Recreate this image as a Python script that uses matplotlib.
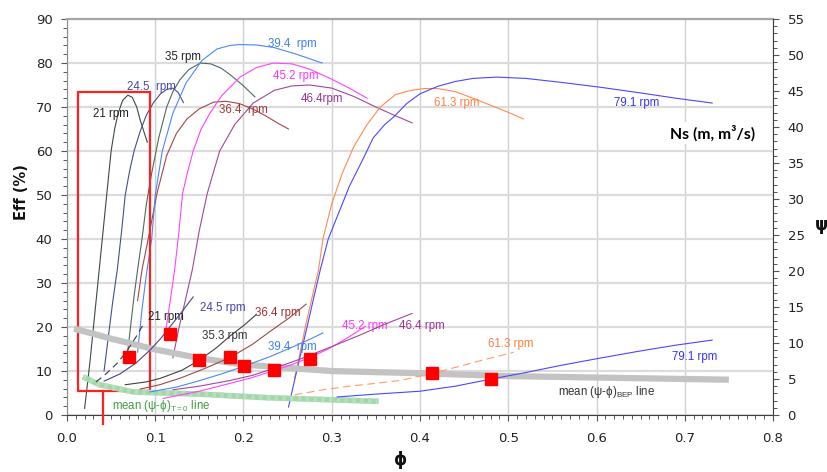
import matplotlib
matplotlib.use('Agg')
import matplotlib.pyplot as plt
from matplotlib.ticker import MultipleLocator, FormatStrFormatter
from matplotlib.patches import Rectangle

# ---------------- efficiency curves (phi, Eff %) ----------------
eff21_phi = [0.020, 0.026, 0.032, 0.037, 0.040, 0.045, 0.050, 0.054, 0.058, 0.063, 0.069, 0.074, 0.079, 0.083, 0.087, 0.091]
eff21_val = [1.5, 12, 24, 34, 40, 50, 60, 65, 68.6, 71.5, 72.7, 72.2, 70, 67, 64.5, 62]

eff245_phi = [0.042, 0.047, 0.052, 0.057, 0.062, 0.066, 0.071, 0.076, 0.083, 0.090, 0.098, 0.106, 0.113, 0.120, 0.126, 0.132]
eff245_val = [10, 18, 26, 33, 42, 50, 55.5, 60, 64.5, 68.2, 71, 73, 74, 74.3, 73.3, 71]

eff35_phi = [0.068, 0.072, 0.076, 0.080, 0.085, 0.090, 0.096, 0.104, 0.113, 0.120, 0.128, 0.138, 0.151, 0.163, 0.175, 0.187, 0.200, 0.213]
eff35_val = [13, 20, 27, 33, 40, 48, 55, 63, 70, 73.5, 76.2, 78.5, 80, 79.8, 78.8, 77, 74.8, 72.3]

eff364_phi = [0.080, 0.085, 0.093, 0.102, 0.113, 0.124, 0.136, 0.150, 0.166, 0.180, 0.195, 0.210, 0.225, 0.240, 0.251]
eff364_val = [26, 33, 41, 50.4, 59, 64, 67.3, 69.6, 71.1, 71.3, 70.8, 69.6, 68, 66.2, 65]

eff394_phi = [0.080, 0.085, 0.090, 0.096, 0.100, 0.108, 0.120, 0.135, 0.153, 0.170, 0.185, 0.196, 0.215, 0.235, 0.260, 0.289]
eff394_val = [14.3, 24, 32, 40, 50, 60, 68.6, 75.5, 80.6, 83.2, 84, 84.2, 84.1, 83.5, 82, 80]

eff452_phi = [0.112, 0.117, 0.122, 0.127, 0.131, 0.137, 0.143, 0.152, 0.162, 0.175, 0.196, 0.215, 0.234, 0.255, 0.275, 0.295, 0.318, 0.340]
eff452_val = [19.3, 26, 33, 42, 50.4, 55.5, 60, 65, 68.6, 72.5, 76.8, 79, 80, 79.8, 78.6, 76.8, 74.5, 72]

eff464_phi = [0.120, 0.126, 0.134, 0.142, 0.150, 0.159, 0.173, 0.190, 0.211, 0.235, 0.255, 0.275, 0.300, 0.325, 0.350, 0.370, 0.391]
eff464_val = [13, 19, 26, 33, 42, 50.4, 60, 66, 70.9, 73.8, 74.8, 75, 74.3, 72.4, 70, 68.2, 66.4]

eff613_phi = [0.258, 0.264, 0.270, 0.278, 0.285, 0.290, 0.300, 0.312, 0.325, 0.340, 0.355, 0.372, 0.390, 0.405, 0.420, 0.440, 0.460, 0.480, 0.500, 0.517]
eff613_val = [8.4, 14, 20, 27, 33, 40, 48, 55, 61, 66, 70, 72.8, 73.8, 74.2, 74.2, 73.5, 72, 70.4, 68.8, 67.3]

eff791_phi = [0.251, 0.258, 0.265, 0.272, 0.280, 0.287, 0.296, 0.308, 0.320, 0.335, 0.347, 0.360, 0.370, 0.385, 0.400, 0.420, 0.440, 0.460, 0.487, 0.520, 0.560, 0.604, 0.650, 0.690, 0.731]
eff791_val = [1.8, 8, 14, 20, 27, 33, 40, 46, 52, 58, 63, 66, 67.7, 70.8, 73, 74.7, 75.8, 76.5, 76.8, 76.5, 75.6, 74.5, 73.2, 72, 70.9]

# ---------------- head coefficient curves (phi, psi) ----------------
psi21_phi = [0.033, 0.045, 0.057, 0.068, 0.078, 0.088]
psi21_val = [4.6, 5.8, 7.2, 8.9, 10.8, 12.9]

psi245_phi = [0.042, 0.060, 0.078, 0.094, 0.106, 0.117, 0.130, 0.143]
psi245_val = [4.7, 5.7, 7.2, 9.0, 10.6, 12.3, 14.3, 16.4]

psi353_phi = [0.066, 0.090, 0.106, 0.130, 0.150, 0.170, 0.185, 0.200, 0.214]
psi353_val = [4.2, 4.6, 5.1, 6.2, 7.6, 9.4, 11.0, 12.4, 13.9]

psi364_phi = [0.083, 0.105, 0.128, 0.155, 0.185, 0.210, 0.230, 0.252, 0.271]
psi364_val = [3.6, 4.2, 5.1, 6.4, 8.0, 9.8, 11.6, 13.5, 15.4]

psi394_phi = [0.094, 0.125, 0.151, 0.175, 0.201, 0.230, 0.253, 0.275, 0.290]
psi394_val = [3.2, 3.9, 4.8, 5.7, 6.8, 8.1, 9.3, 10.5, 11.4]

psi452_phi = [0.109, 0.150, 0.185, 0.210, 0.235, 0.255, 0.275, 0.295, 0.315, 0.338]
psi452_val = [2.3, 3.3, 4.4, 5.2, 6.2, 7.0, 8.0, 9.1, 10.5, 12.3]

psi464_phi = [0.120, 0.150, 0.185, 0.210, 0.235, 0.265, 0.298, 0.330, 0.360, 0.391]
psi464_val = [3.5, 4.0, 4.8, 5.5, 6.5, 7.8, 9.4, 11.0, 12.6, 14.1]

psi613_phi = [0.258, 0.290, 0.320, 0.350, 0.378, 0.414, 0.440, 0.470, 0.506]
psi613_val = [2.8, 3.5, 4.0, 4.4, 4.8, 5.8, 6.6, 7.6, 8.7]

psi791_phi = [0.306, 0.350, 0.400, 0.440, 0.481, 0.520, 0.560, 0.604, 0.650, 0.690, 0.731]
psi791_val = [2.5, 2.9, 3.3, 4.0, 5.0, 5.9, 6.9, 7.9, 8.9, 9.7, 10.4]

# mean lines
bep_phi = [0.008, 0.05, 0.10, 0.15, 0.20, 0.30, 0.40, 0.50, 0.60, 0.75]
bep_psi = [12.0, 10.6, 9.1, 7.9, 7.0, 6.1, 5.8, 5.4, 5.2, 4.9]

t0_phi = [0.018, 0.037, 0.075, 0.151, 0.227, 0.353]
t0_psi = [5.3, 4.2, 3.2, 2.9, 2.4, 1.9]

# BEP points
bep_pts_phi = [0.070, 0.117, 0.150, 0.185, 0.201, 0.235, 0.275, 0.414, 0.481]
bep_pts_psi = [8.0, 11.2, 7.6, 8.0, 6.8, 6.2, 7.8, 5.8, 5.0]

# ---------------- figure ----------------
plt.rcParams['font.family'] = ['DejaVu Sans']
fig = plt.figure(figsize=(8.28, 4.72), dpi=100)
ax = fig.add_axes([0.0809, 0.1208, 0.8527, 0.8389])
ax2 = ax.twinx()

ax.set_xlim(0, 0.8)
ax.set_ylim(0, 90)
ax2.set_ylim(0, 55)

ax.xaxis.set_major_locator(MultipleLocator(0.1))
ax.xaxis.set_minor_locator(MultipleLocator(0.01))
ax.xaxis.set_major_formatter(FormatStrFormatter('%.1f'))
ax.yaxis.set_major_locator(MultipleLocator(10))
ax.yaxis.set_minor_locator(MultipleLocator(2))
ax2.yaxis.set_major_locator(MultipleLocator(5))
ax2.yaxis.set_minor_locator(MultipleLocator(1))

for a in (ax, ax2):
    a.tick_params(which='major', length=4.5, width=0.8, color='#555555', labelsize=9.5, labelcolor='#222222', direction='out')
    a.tick_params(which='minor', length=3, width=0.7, color='#555555', direction='out')
ax.tick_params(axis='x', pad=8)
ax.tick_params(axis='y', pad=6)
ax2.tick_params(axis='y', pad=6)

ax.set_axisbelow(True)
ax.grid(True, axis='x', which='major', color='#d0d0d0', lw=1.0)
ax.grid(True, axis='y', which='major', color='#dcdcdc', lw=1.6)

ax.spines['top'].set_color('#a6a6a6')
ax.spines['top'].set_linewidth(1.6)
ax.spines['left'].set_color('#8a8a8a')
ax.spines['bottom'].set_color('#404040')
ax.spines['right'].set_visible(False)
for s in ('top', 'left', 'bottom'):
    ax2.spines[s].set_visible(False)
ax2.spines['right'].set_color('#404040')

lw = 0.8
# efficiency curves
ax.plot(eff21_phi, eff21_val, color='#3c4a44', lw=lw)
ax.plot(eff245_phi, eff245_val, color='#44508c', lw=lw)
ax.plot(eff35_phi, eff35_val, color='#4f6a5c', lw=lw)
ax.plot(eff364_phi, eff364_val, color='#a04848', lw=lw)
ax.plot(eff394_phi, eff394_val, color='#4d86f5', lw=lw)
ax.plot(eff452_phi, eff452_val, color='#ff44ff', lw=lw)
ax.plot(eff464_phi, eff464_val, color='#a0489a', lw=lw)
ax.plot(eff613_phi, eff613_val, color='#ff8a50', lw=lw)
ax.plot(eff791_phi, eff791_val, color='#4848ff', lw=lw)

# mean lines
ax2.plot(bep_phi, bep_psi, color='#c3c3c3', lw=4.5, solid_capstyle='butt', zorder=2)
ax2.plot(t0_phi, t0_psi, color='#a3d7ab', lw=4.0, solid_capstyle='butt', zorder=2)
ax2.plot(t0_phi, t0_psi, color='#b6dfbb', lw=4.0, ls=(0, (0.6, 0.8)), dash_capstyle='butt', zorder=2)

# psi curves
ax2.plot(psi21_phi, psi21_val, color='#3a3a3a', lw=lw, ls=(0, (6, 4)), zorder=3)
ax2.plot(psi245_phi, psi245_val, color='#44448c', lw=lw, zorder=3)
ax2.plot(psi353_phi, psi353_val, color='#404040', lw=lw, zorder=3)
ax2.plot(psi364_phi, psi364_val, color='#a04848', lw=lw, zorder=3)
ax2.plot(psi394_phi, psi394_val, color='#4d86f5', lw=lw, zorder=3)
ax2.plot(psi452_phi, psi452_val, color='#ff44ff', lw=lw, zorder=3)
ax2.plot(psi464_phi, psi464_val, color='#a0489a', lw=lw, zorder=3)
ax2.plot(psi613_phi, psi613_val, color='#ff9a6a', lw=lw, ls=(0, (7, 4)), zorder=3)
ax2.plot(psi791_phi, psi791_val, color='#4848ff', lw=lw, zorder=3)

ax2.plot(bep_pts_phi, bep_pts_psi, ls='none', marker='s', markersize=9, color='#ff0000', mec='#ff0000', zorder=5)

# red box and leader
ax.add_patch(Rectangle((0.0125, 5.45), 0.0815, 68.0, fill=False, edgecolor='#ff2020', lw=1.6, zorder=6))
ax.plot([0.041, 0.041], [5.45, -2.0], color='#ff2020', lw=1.6, clip_on=False, zorder=6)

# labels
lf = ['Liberation Sans', 'DejaVu Sans']
fs = 8.3
def lab(x, y, s, c):
    ax.text(x, y, s, color=c, fontsize=fs, ha='center', va='center', family=lf, zorder=7)

lab(0.0499, 68.4, '21 rpm', '#222222')
lab(0.096, 74.5, '24.5  rpm', '#4848a8')
lab(0.132, 81.4, '35 rpm', '#222222')
lab(0.255, 84.3, '39.4  rpm', '#3d7ef5')
lab(0.259, 77.0, '45.2 rpm', '#ff33ff')
lab(0.200, 69.3, '36.4  rpm', '#a03838')
lab(0.289, 71.8, '46.4rpm', '#993399')
lab(0.442, 70.9, '61.3 rpm', '#ff7f3f')
lab(0.645, 70.9, '79.1 rpm', '#3333ff')

lab(0.112, 22.3, '21 rpm', '#222222')
lab(0.176, 24.3, '24.5 rpm', '#4444aa')
lab(0.179, 18.0, '35.3 rpm', '#333333')
lab(0.239, 23.2, '36.4 rpm', '#a03030')
lab(0.255, 15.5, '39.4  rpm', '#3d7ef5')
lab(0.338, 20.2, '45.2 rpm', '#ff33ff')
lab(0.402, 20.2, '46.4 rpm', '#993399')
lab(0.503, 16.1, '61.3 rpm', '#ff7f3f')
lab(0.711, 13.2, '79.1 rpm', '#3333ff')

ax.text(0.611, 5.2, r'mean (ψ-ϕ)$_{\mathregular{BEP}}$ line', color='#333333', fontsize=fs,
        ha='center', va='center', family=lf, zorder=7)
ax.text(0.107, 2.0, r'mean (ψ-ϕ)$_{\mathregular{T = 0}}$ line', color='#3f9f3f', fontsize=fs,
        ha='center', va='center', family=lf, zorder=7)

ax.text(0.732, 64.1, 'Ns (m, m³/s)', fontsize=11.3, fontweight='bold', family=['Lato', 'DejaVu Sans'],
        ha='center', va='center', color='black', zorder=7,
        bbox=dict(facecolor='white', edgecolor='none', pad=2))

ax.text(-0.064, 0.563, 'Eff (%)', transform=ax.transAxes, rotation=90, fontsize=10.5,
        fontweight='bold', ha='center', va='center', color='#111111')
ax.text(1.069, 0.48, 'ψ', transform=ax.transAxes, fontsize=12, fontweight='bold',
        ha='center', va='center', color='#111111')
ax.text(0.472, -0.114, 'ϕ', transform=ax.transAxes, fontsize=12, fontweight='bold',
        ha='center', va='center', color='#111111')

fig.savefig('out.png', dpi=100)
